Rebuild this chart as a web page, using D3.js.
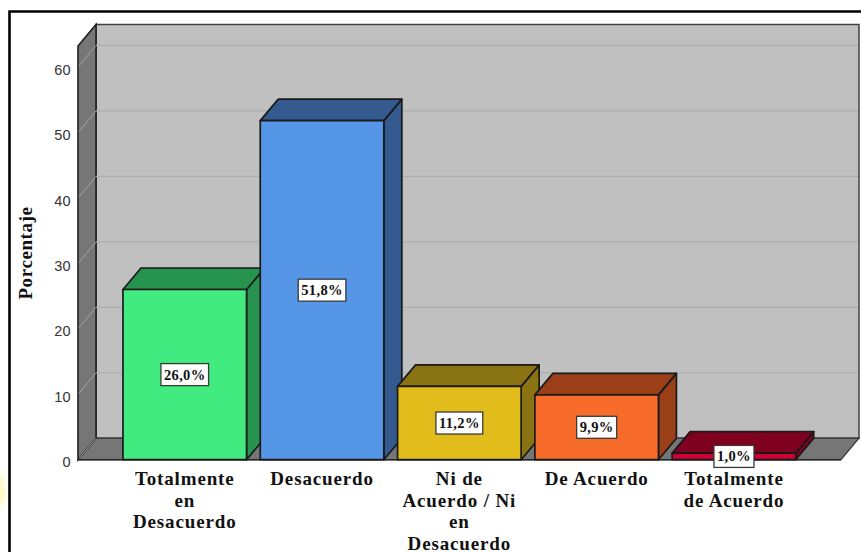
<!DOCTYPE html>
<html>
<head>
<meta charset="utf-8">
<script src="https://d3js.org/d3.v7.min.js"></script>
<style>
html,body{margin:0;padding:0;background:#fff;overflow:hidden}
svg{display:block}
</style>
</head>
<body>
<svg id="chart" width="861" height="552"></svg>
<script>
// Survey responses, in percent
const categories = ["Totalmente en Desacuerdo", "Desacuerdo", "Ni de Acuerdo / Ni en Desacuerdo", "De Acuerdo", "Totalmente de Acuerdo"];
const categoryLines = [["Totalmente", "en", "Desacuerdo"], ["Desacuerdo"], ["Ni de", "Acuerdo / Ni", "en", "Desacuerdo"], ["De Acuerdo"], ["Totalmente", "de Acuerdo"]];
const values = [26.0, 51.8, 11.2, 9.9, 1.0];
const valueLabels = ["26,0%", "51,8%", "11,2%", "9,9%", "1,0%"];
const frontColors = ["#41eb7f", "#5596e6", "#e1bc1b", "#f76b2b", "#cc0033"];
const shadeColors = ["#26934f", "#345a8f", "#8a7313", "#9a3f17", "#80001f"];
const yTicks = [0, 10, 20, 30, 40, 50, 60];

const svg = d3.select("#chart");
const serif = "'Liberation Serif', serif";
const sans = "'Liberation Sans', sans-serif";
const ink = "#1a1a1a";

// Oblique projection offset of the 3D box
const depthX = 18, depthY = -21.5;
const floorY = 459.7, topY = 46, wallLeft = 78, floorRight = 841;

const y = d3.scaleLinear().domain([0, 63.2]).range([floorY, topY]);
const x = d3.scaleBand().domain(categories).range([116.1, 802.6]).paddingInner(0.1).paddingOuter(0.05);

const poly = pts => "M" + pts.map(p => p.join(",")).join("L") + "Z";

// Soft tint that sits behind the left edge of the frame
const defs = svg.append("defs");
const tint = defs.append("radialGradient").attr("id", "tint");
tint.append("stop").attr("offset", "0%").attr("stop-color", "#fdfbc4");
tint.append("stop").attr("offset", "55%").attr("stop-color", "#fdfbc8");
tint.append("stop").attr("offset", "100%").attr("stop-color", "#ffffff");
svg.append("ellipse").attr("cx", -6).attr("cy", 491).attr("rx", 15).attr("ry", 26).attr("fill", "url(#tint)");

// Outer frame, open to the right and bottom
svg.append("path").attr("d", "M9.5,552V11.5H861").attr("fill", "none").attr("stroke", "#000").attr("stroke-width", 2.6);

// Back wall, left wall and floor
const backLeft = wallLeft + depthX, backRight = floorRight + depthX;
const backTop = topY + depthY, backBottom = floorY + depthY;

svg.append("path").attr("d", poly([[backLeft, backTop], [backRight, backTop], [backRight, backBottom], [backLeft, backBottom]]))
  .attr("fill", "#c0c0c0").attr("stroke", "#404040").attr("stroke-width", 1.5);
svg.append("path").attr("d", poly([[wallLeft, floorY], [backLeft, backBottom], [backRight, backBottom], [floorRight, floorY]]))
  .attr("fill", "#767676").attr("stroke", "#333").attr("stroke-width", 1.2);
svg.append("path").attr("d", poly([[wallLeft, topY], [backLeft, backTop], [backLeft, backBottom], [wallLeft, floorY]]))
  .attr("fill", "#767676").attr("stroke", "#1f1f1f").attr("stroke-width", 1.6);

// Gridlines wrap from the left wall on to the back wall
const grid = svg.append("g").attr("fill", "none");
grid.selectAll("path.wall").data(yTicks).join("path").attr("class", "wall")
  .attr("d", d => `M${wallLeft + 1},${y(d) - 1}L${backLeft},${y(d) + depthY}`)
  .attr("stroke", "#a4a4a4").attr("stroke-width", 1);
grid.selectAll("path.back").data(yTicks.filter(d => d > 0)).join("path").attr("class", "back")
  .attr("d", d => `M${backLeft},${y(d) + depthY}H${backRight - 1}`)
  .attr("stroke", "#adadad").attr("stroke-width", 1.2);

svg.append("path").attr("d", `M${wallLeft},${floorY}H${floorRight}`).attr("stroke", "#222").attr("stroke-width", 1.6);

// Value axis
const axis = d3.axisLeft(y).tickValues(yTicks).tickSize(0).tickPadding(0);
const axisG = svg.append("g").attr("transform", `translate(${wallLeft - 7.5},2.5)`).call(axis);
axisG.select(".domain").remove();
axisG.selectAll("text").attr("font-family", sans).attr("font-size", 14.5).attr("fill", "#333");

svg.append("text").attr("transform", `translate(32,${253}) rotate(-90)`).attr("text-anchor", "middle")
  .attr("font-family", serif).attr("font-weight", "bold").attr("font-size", 19).attr("letter-spacing", 0.6)
  .attr("fill", "#111").text("Porcentaje");

// Bars, drawn left to right as front, top and side faces
const bars = svg.selectAll("g.bar").data(categories).join("g").attr("class", "bar");
const bw = x.bandwidth();
const edge = { stroke: ink, "stroke-width": 1.7, "stroke-linejoin": "round" };
const applyEdge = s => Object.entries(edge).forEach(([k, v]) => s.attr(k, v));

bars.append("path")
  .attr("d", (c, i) => { const l = x(c) + bw, t = y(values[i]);
    return poly([[l, floorY], [l + depthX, floorY + depthY], [l + depthX, t + depthY], [l, t]]); })
  .attr("fill", (c, i) => shadeColors[i]).call(applyEdge);
bars.append("path")
  .attr("d", (c, i) => { const l = x(c), t = y(values[i]);
    return poly([[l, t], [l + depthX, t + depthY], [l + bw + depthX, t + depthY], [l + bw, t]]); })
  .attr("fill", (c, i) => shadeColors[i]).call(applyEdge);
bars.append("rect")
  .attr("x", c => x(c)).attr("width", bw)
  .attr("y", (c, i) => y(values[i])).attr("height", (c, i) => floorY - y(values[i]))
  .attr("fill", (c, i) => frontColors[i]).call(applyEdge);

// Value labels, boxed at the middle of each bar
const labels = svg.selectAll("g.value").data(categories).join("g").attr("class", "value")
  .attr("transform", (c, i) => `translate(${x(c) + bw / 2},${y(values[i] / 2)})`);
labels.append("text").attr("text-anchor", "middle").attr("dy", 5)
  .attr("font-family", serif).attr("font-weight", "bold").attr("font-size", 14.5).attr("letter-spacing", 0.35)
  .attr("fill", "#111").text((c, i) => valueLabels[i]);
labels.each(function () {
  const g = d3.select(this), b = g.select("text").node().getBBox();
  g.insert("rect", "text").attr("x", b.x - 3).attr("y", -11).attr("width", b.width + 6).attr("height", 22)
    .attr("fill", "#fff").attr("stroke", "#3a3a3a").attr("stroke-width", 1.3);
});

// Wrapped category names below the floor
const names = svg.selectAll("text.cat").data(categories).join("text").attr("class", "cat")
  .attr("text-anchor", "middle").attr("font-family", serif).attr("font-weight", "bold")
  .attr("font-size", 19).attr("letter-spacing", 0.85).attr("fill", "#111");
names.each(function (c, i) {
  d3.select(this).selectAll("tspan").data(categoryLines[i]).join("tspan")
    .attr("x", x(c) + bw / 2).attr("y", (d, k) => 485 + k * 21.6).text(d => d);
});
</script>
</body>
</html>
